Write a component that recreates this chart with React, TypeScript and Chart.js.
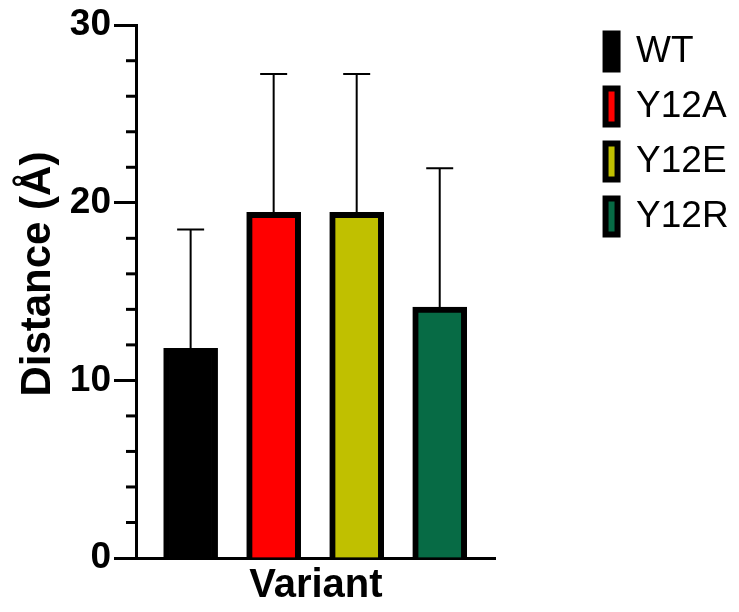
import React, { useEffect, useRef } from "react";
import { Chart, registerables } from "chart.js";

Chart.register(...registerables);

// ---- data ----
const variants = ["WT", "Y12A", "Y12E", "Y12R"];
const meanDistance = [11.8, 19.47, 19.47, 14.13];
const sdDistance = [6.7, 7.78, 7.78, 7.82];
const barColors = ["#000000", "#FF0000", "#C0C000", "#076B45"];
const yMajorStep = 10;
const yMinorStep = 2;
const yMin = 0;
const yMax = 30;
const xTitle = "Variant";
const yTitle = "   Distance (Å)";

const FONT = "'Liberation Sans', Arial, Helvetica, sans-serif";

const errorBarsPlugin = {
  id: "errorBars",
  afterDatasetsDraw(chart: any) {
    const { ctx } = chart;
    const yScale = chart.scales.y;
    chart.data.datasets.forEach((ds: any, i: number) => {
      const meta = chart.getDatasetMeta(i);
      meta.data.forEach((bar: any, j: number) => {
        const mean = ds.data[j].y;
        const sd = ds.sd[j];
        const x = bar.x;
        const yTop = yScale.getPixelForValue(mean);
        const yCap = yScale.getPixelForValue(mean + sd);
        ctx.save();
        ctx.strokeStyle = "#000";
        ctx.lineWidth = 2;
        ctx.beginPath();
        ctx.moveTo(x, yTop);
        ctx.lineTo(x, yCap);
        ctx.moveTo(x - 13.5, yCap);
        ctx.lineTo(x + 13.5, yCap);
        ctx.stroke();
        ctx.restore();
      });
    });
  },
};

const minorTicksPlugin = {
  id: "minorTicks",
  afterDraw(chart: any) {
    const { ctx, chartArea } = chart;
    const yScale = chart.scales.y;
    ctx.save();
    ctx.strokeStyle = "#000";
    ctx.lineWidth = 3;
    for (let v = yMin; v <= yMax; v += yMinorStep) {
      if (v % yMajorStep === 0) continue;
      const py = yScale.getPixelForValue(v);
      ctx.beginPath();
      ctx.moveTo(chartArea.left - 10, py);
      ctx.lineTo(chartArea.left, py);
      ctx.stroke();
    }
    ctx.restore();
  },
};

export default function App() {
  const canvasRef = useRef<HTMLCanvasElement | null>(null);

  useEffect(() => {
    if (!canvasRef.current) return;
    Chart.defaults.font.family = FONT;
    Chart.defaults.color = "#000";

    const datasets = variants.map((name, i) => ({
      label: name,
      data: [{ x: i, y: meanDistance[i] }],
      sd: [sdDistance[i]],
      backgroundColor: barColors[i],
      borderColor: "#000",
      borderWidth: 6,
      barThickness: 54,
      grouped: false,
    }));

    const chart = new Chart(canvasRef.current, {
      type: "bar",
      data: { datasets: datasets as any },
      options: {
        animation: false,
        responsive: false,
        devicePixelRatio: 1,
        layout: { padding: { left: 0, right: 0.4, top: 0, bottom: 0 } },
        plugins: {
          tooltip: { enabled: false },
          legend: {
            display: true,
            position: "right",
            align: "start",
            maxWidth: 400,
            title: {
              display: true,
              text: "",
              font: { size: 10, lineHeight: 1 },
              padding: { top: 0, bottom: 5 },
            },
            labels: {
              boxWidth: 12,
              boxHeight: 36,
              padding: 18,
              color: "#000",
              font: { size: 37, family: FONT },
            },
          },
        },
        scales: {
          x: {
            type: "linear",
            offset: false,
            min: -0.658,
            max: 3.676,
            grid: { display: false, drawTicks: false, offset: false },
            border: { display: true, color: "#000", width: 3 },
            ticks: { display: false },
            title: {
              display: true,
              text: xTitle,
              color: "#000",
              font: { size: 40, weight: "bold", family: FONT },
              padding: { top: 0, bottom: 2 },
            },
            afterFit: (s: any) => {
              s.height = 54;
            },
          },
          y: {
            type: "linear",
            position: "left",
            min: yMin,
            max: yMax,
            ticks: {
              stepSize: yMajorStep,
              color: "#000",
              padding: 3,
              font: { size: 37, weight: "bold", family: FONT },
            },
            grid: {
              display: true,
              drawOnChartArea: false,
              drawTicks: true,
              tickLength: 22,
              tickWidth: 3,
              tickColor: "#000",
              color: "#000",
            },
            border: { display: true, color: "#000", width: 3 },
            title: {
              display: true,
              text: yTitle,
              color: "#000",
              font: { size: 42, weight: "bold", family: FONT },
              padding: { top: 13.2, bottom: 0 },
            },
            afterFit: (s: any) => {
              s.width = 136;
            },
          },
          pad: {
            type: "linear",
            position: "right",
            display: true,
            grid: { display: false, drawTicks: false },
            border: { display: false },
            ticks: { display: false },
            afterFit: (s: any) => {
              s.width = 91.7;
            },
          },
        },
      },
      plugins: [errorBarsPlugin, minorTicksPlugin],
    } as any);

    return () => chart.destroy();
  }, []);

  return (
    <div style={{ position: "fixed", left: 0, top: 0, width: 739, height: 612, background: "#fff" }}>
      <canvas ref={canvasRef} width={739} height={612} style={{ display: "block" }} />
    </div>
  );
}
